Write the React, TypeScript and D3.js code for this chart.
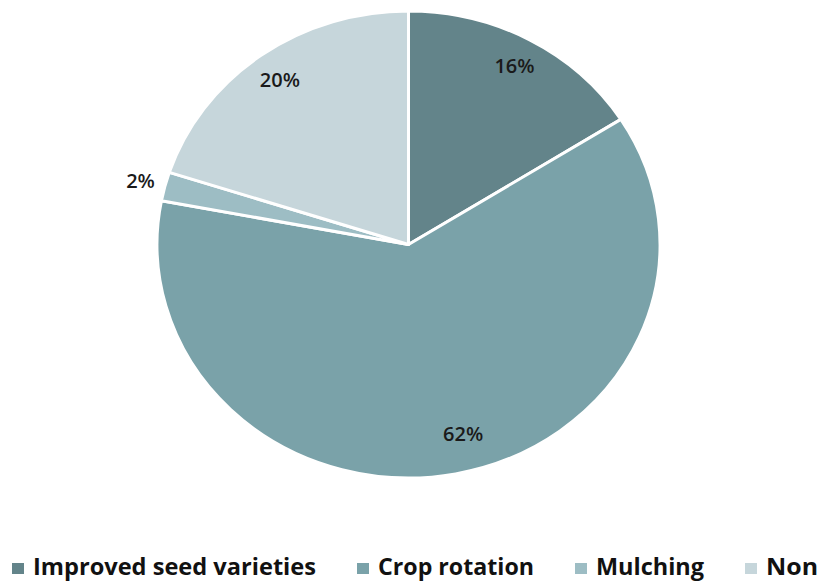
import React, { useRef, useEffect } from "react";
import * as d3 from "d3";

const categories = ["Improved seed varieties", "Crop rotation", "Mulching", "Non"];
const shares = [16, 62, 2, 20];
const colors = ["#63848a", "#7aa2a9", "#9dbdc4", "#c6d6db"];

// label placement tweaks (fraction of radius, angle shift in degrees)
const labelRadius = [0.875, 0.84, 1.1, 0.87];
const labelShift = [0, -4.2, 0, 0];
const legendWidths = [283, 156, 108, 52];

const WIDTH = 821;
const HEIGHT = 582;

export default function App() {
  const svgRef = useRef<SVGSVGElement>(null);

  useEffect(() => {
    if (!svgRef.current) return;
    const svg = d3.select(svgRef.current);
    svg.selectAll("*").remove();

    const cx = 408.5;
    const cy = 244.5;
    const ry = 233.5;
    const rx = 251.5;
    const sx = rx / ry;

    const pie = d3
      .pie<number>()
      .sort(null)
      .value((d) => d);
    const arcs = pie(shares);
    const arc = d3.arc<d3.PieArcDatum<number>>().innerRadius(0).outerRadius(ry);

    const g = svg
      .append("g")
      .attr("transform", `translate(${cx},${cy}) scale(${sx},1)`);

    g.selectAll("path")
      .data(arcs)
      .join("path")
      .attr("d", arc)
      .attr("fill", (_, i) => colors[i])
      .attr("stroke", "#ffffff")
      .attr("stroke-width", 3)
      .attr("stroke-linejoin", "round")
      .attr("vector-effect", "non-scaling-stroke");

    // Percentage labels
    svg
      .append("g")
      .selectAll("text")
      .data(arcs)
      .join("text")
      .attr("x", (d, i) => {
        const a = (d.startAngle + d.endAngle) / 2 + (labelShift[i] * Math.PI) / 180;
        return cx + Math.sin(a) * rx * labelRadius[i];
      })
      .attr("y", (d, i) => {
        const a = (d.startAngle + d.endAngle) / 2 + (labelShift[i] * Math.PI) / 180;
        return cy - Math.cos(a) * ry * labelRadius[i];
      })
      .attr("dy", "0.36em")
      .attr("text-anchor", "middle")
      .style("font-family", "'Open Sans', sans-serif")
      .style("font-weight", "600")
      .style("font-size", "20px")
      .style("fill", "#1a1a1a")
      .text((d) => `${d.data}%`);

    // Legend
    const legend = svg.append("g");
    let x = 12;
    categories.forEach((c, i) => {
      legend
        .append("rect")
        .attr("x", x)
        .attr("y", 563)
        .attr("width", 12)
        .attr("height", 11)
        .attr("fill", colors[i]);
      legend
        .append("text")
        .attr("x", x + 21)
        .attr("y", 575)
        .attr("textLength", legendWidths[i])
        .attr("lengthAdjust", "spacingAndGlyphs")
        .style("font-family", "'Open Sans', sans-serif")
        .style("font-weight", "700")
        .style("font-size", "24px")
        .style("fill", "#111111")
        .text(c);
      x += 21 + legendWidths[i] + 41;
    });
  }, []);

  return (
    <svg
      ref={svgRef}
      width={WIDTH}
      height={HEIGHT}
      style={{ position: "absolute", left: 0, top: 0, background: "#ffffff" }}
    />
  );
}
